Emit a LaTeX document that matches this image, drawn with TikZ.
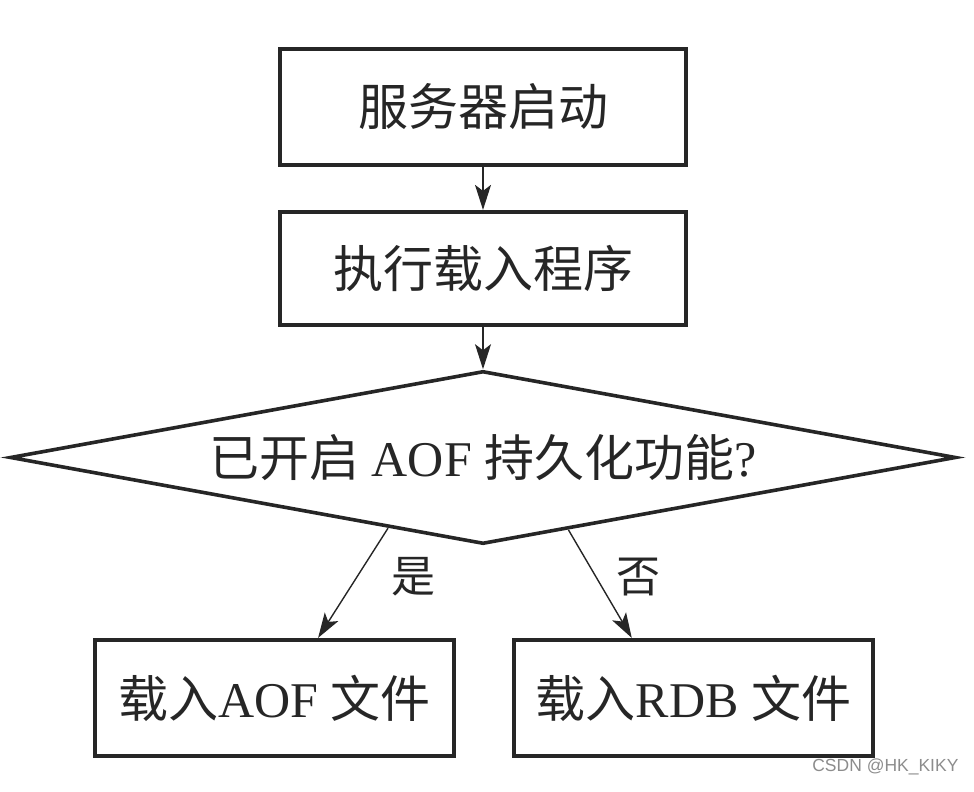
\documentclass[tikz,border=0pt]{standalone}
\usepackage{fontspec}
\setmainfont{Liberation Serif}
\setsansfont{Liberation Sans}
\newfontfamily\cjk{Noto Sans CJK SC}
\usetikzlibrary{shapes.geometric,arrows.meta,calc}
\colorlet{ink}{black!85}
\newcommand{\zh}[1]{{\cjk #1}}

\begin{document}
\begin{tikzpicture}[x=1pt,y=-1pt,
        box/.style={draw=ink,line width=4.2pt,minimum width=406pt,minimum height=116pt,
            inner sep=0pt,text=ink,font=\fontsize{50}{60}\selectfont},
        arr/.style={draw=ink,line width=1.4pt,-{Stealth[length=25pt,width=16pt,inset=6pt]}}]
    \useasboundingbox (0,0) rectangle (974,792);

    % the chain down to the test
    \node [box] (start) at (483,107) {\zh{服务器启动}};
    \node [box,minimum height=113pt] (load) at (483,268.5) {\zh{执行载入程序}};
    \node [diamond,aspect=5.4,draw=ink,line width=3.6pt,minimum width=946pt,minimum height=173pt,
        inner sep=0pt,text=ink,font=\fontsize{50}{60}\selectfont] (aofon) at (483,457.5)
        {\zh{已开启} AOF \zh{持久化功能}?};

    % the two ways out
    \node [box,minimum width=359pt] (aof) at (274.5,698) {\zh{载入}AOF \zh{文件}};
    \node [box,minimum width=359pt] (rdb) at (693.5,698) {\zh{载入}RDB \zh{文件}};

    \draw [arr] (start) -- (load);
    \draw [arr] (load) -- (aofon);
    \draw [arr] ($(aofon.south)!0.2!(aofon.west)$) -- ($(aof.north west)!0.62!(aof.north east)$);
    \draw [arr] ($(aofon.south)!0.18!(aofon.east)$) -- ($(rdb.north west)!0.33!(rdb.north east)$);

    \node [text=ink,font=\fontsize{44}{50}\selectfont] (yes) at (413,577) {\zh{是}};
    \node [text=ink,font=\fontsize{44}{50}\selectfont] (no) at (638,577) {\zh{否}};

    \node [anchor=east,text=black!45,font=\sffamily\fontsize{17.5}{20}\selectfont] (mark) at (962,767) {CSDN @HK\_KIKY};
\end{tikzpicture}
\end{document}
